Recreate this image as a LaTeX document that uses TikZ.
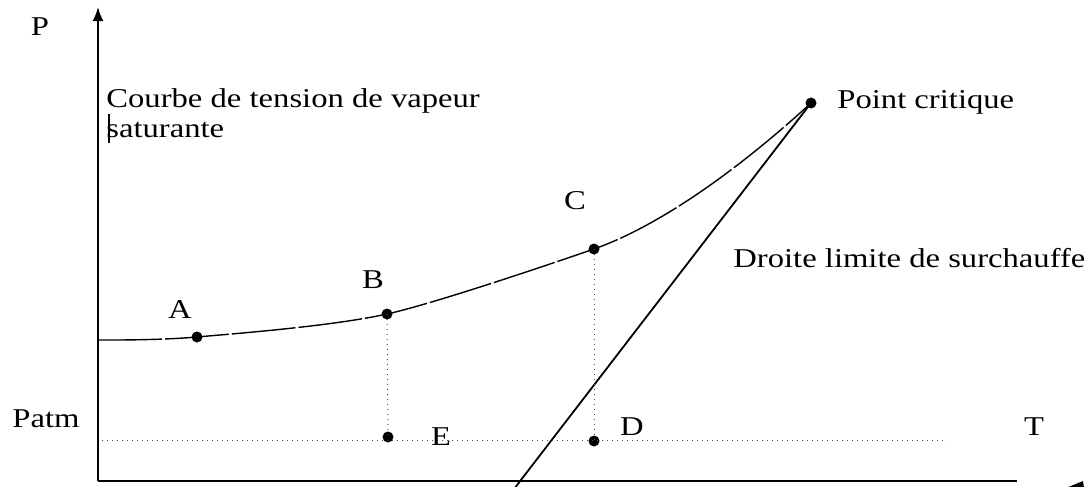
\documentclass[tikz,border=0pt]{standalone}
\usepackage{fontspec}
\setmainfont{Liberation Serif}
\usepackage{graphicx}
\usetikzlibrary{arrows.meta,positioning}
\newcommand{\wtxt}[1]{\scalebox{1.2}[1]{#1}}

\begin{document}
\begin{tikzpicture}[x=0.5pt,y=-0.5pt,
      every node/.style={font=\fontsize{13.6}{15}\selectfont,inner sep=0pt},
      pt/.style={circle,fill,minimum size=5.5pt},
      lbl/.style={anchor=base},
      axis/.style={line width=1pt},
      guide/.style={dotted,line width=0.5pt,black!70},
      curve/.style={line width=0.7pt,dash pattern=on 32pt off 1.5pt}]
      \useasboundingbox (0,0) rectangle (1084,487);
      % axes
      \coordinate (O) at (98,481);
      \coordinate (Ptop) at (98,7);
      \coordinate (Tend) at (1017,481);
      \draw[axis,-{Latex[length=7pt,width=5.5pt]}] (O) -- (Ptop);
      \draw[axis] (O) -- (Tend);
      \fill (1066,488) -- (1083,481) -- (1084,488) -- cycle;
      % points
      \node[pt] (A) at (197,337) {};
      \node[pt] (B) at (387,314) {};
      \node[pt] (C) at (594,249) {};
      \node[pt] (E) at (388,437) {};
      \node[pt] (D) at (594,441) {};
      \node[pt] (crit) at (811,103) {};
      \coordinate (s0) at (98,340);
      \coordinate (k1) at (673,221);
      \coordinate (k2) at (760,150);
      \coordinate (foot) at (514,489);
      \coordinate (patmL) at (102,440);
      \coordinate (patmR) at (947,440);
      % curves and lines
      \draw[curve] plot[smooth,tension=0.5] coordinates
        {(s0) (A.center) (B.center) (C.center)}
        .. controls (k1) and (k2) .. (crit.center);
      \draw[line width=0.9pt] (crit.center) -- (foot);
      \draw[guide] (patmL) -- (patmR);
      \draw[guide] (B.center) -- (E.center);
      \draw[guide] (C.center) -- (D.center);
      \draw[line width=0.6pt] (109,114) -- (109,143);
      % labels
      \node[lbl] (labP) at (40,35) {\wtxt{P}};
      \node[lbl] (labA) at (180,318) {\wtxt{A}};
      \node[lbl] (labB) at (373,288) {\wtxt{B}};
      \node[lbl] (labC) at (575,209) {\wtxt{C}};
      \node[lbl] (labE) at (441,445) {\wtxt{E}};
      \node[lbl] (labD) at (632,435) {\wtxt{D}};
      \node[lbl] (labT) at (1034,435) {\wtxt{T}};
      \node[anchor=base west] (patm) at (12,427) {\wtxt{Patm}};
      \node[anchor=north west,align=left] (courbe) at (106,88)
        {\wtxt{Courbe de tension de vapeur}\\ \wtxt{saturante}};
      \node[anchor=base west] (pc) at (837,108) {\wtxt{Point critique}};
      \node[anchor=base west] (droite) at (733,267) {\wtxt{Droite limite de surchauffe}};
\end{tikzpicture}
\end{document}
